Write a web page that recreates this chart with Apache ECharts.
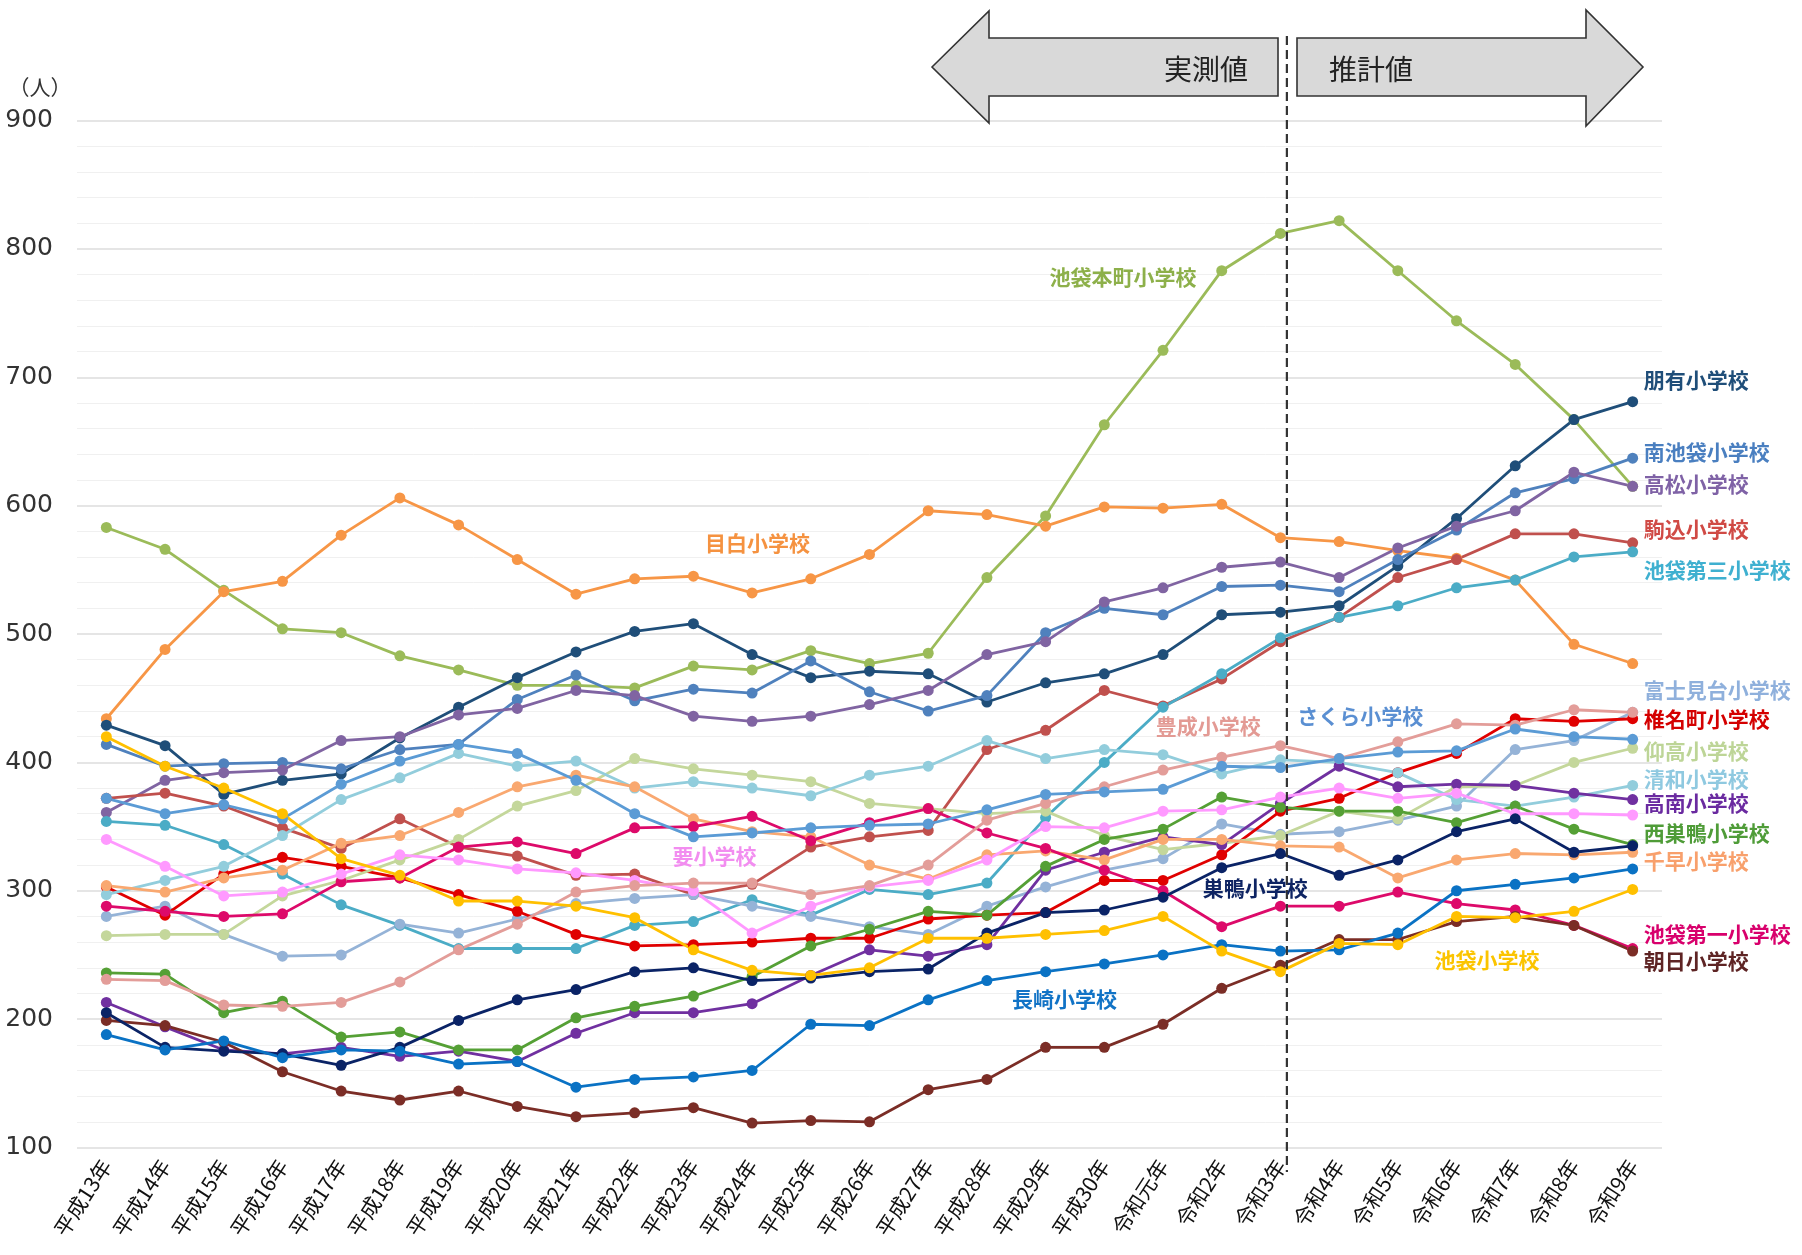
<!DOCTYPE html>
<html><head><meta charset="utf-8">
<script src="https://cdn.jsdelivr.net/npm/echarts@6/dist/echarts.min.js"></script>
<style>html,body{margin:0;padding:0;background:#fff}#c{width:1802px;height:1255px}</style>
</head><body><div id="c"></div>
<script>
// ---- categories ----
const categories = ['平成13年','平成14年','平成15年','平成16年','平成17年','平成18年','平成19年','平成20年','平成21年','平成22年','平成23年','平成24年','平成25年','平成26年','平成27年','平成28年','平成29年','平成30年','令和元年','令和2年','令和3年','令和4年','令和5年','令和6年','令和7年','令和8年','令和9年'];
const yTicks = [100, 200, 300, 400, 500, 600, 700, 800, 900];

// ---- series values (人) ----
const ikebukuroHoncho = [583,566,534,504,501,483,472,460,460,458,475,472,487,477,485,544,592,663,721,783,812,822,783,744,710,667,615];
const mejiro          = [434,488,533,541,577,606,585,558,531,543,545,532,543,562,596,593,584,599,598,601,575,572,565,559,542,492,477];
const houyu           = [429,413,375,386,391,419,443,466,486,502,508,484,466,471,469,447,462,469,484,515,517,522,553,590,631,667,681];
const minamiIkebukuro = [414,397,399,400,395,410,414,449,468,448,457,454,479,455,440,452,501,520,515,537,538,533,558,581,610,621,637];
const takamatsu       = [361,386,392,394,417,420,437,442,456,452,436,432,436,445,456,484,494,525,536,552,556,544,567,584,596,626,615];
const komagome        = [372,376,366,349,333,356,334,327,312,313,297,305,334,342,347,410,425,456,444,465,494,513,544,558,578,578,571];
const ikebukuroDai3   = [354,351,336,313,289,273,255,255,255,273,276,293,281,301,297,306,357,400,443,469,497,513,522,536,542,560,564];
const fujimidai       = [280,288,266,249,250,274,267,278,290,294,297,288,280,272,266,288,303,316,325,352,344,346,355,366,410,417,439];
const shiinamachi     = [303,281,313,326,319,310,297,284,266,257,258,260,263,263,278,281,283,308,308,328,362,372,392,407,434,432,434];
const gyoukou         = [265,266,266,296,308,324,340,366,378,403,395,390,385,368,364,360,362,343,332,337,343,362,356,381,382,400,411];
const seiwa           = [297,308,319,343,371,388,407,397,401,380,385,380,374,390,397,417,403,410,406,391,402,400,392,371,366,373,382];
const takaminami      = [213,194,176,173,178,171,175,167,189,205,205,212,234,254,249,258,316,330,342,336,368,397,381,383,382,376,371];
const nishiSugamo     = [236,235,205,214,186,190,176,176,201,210,218,233,257,270,284,281,319,340,348,373,365,362,362,353,366,348,336];
const chihaya         = [304,299,310,316,337,343,361,381,390,381,356,346,342,320,309,328,331,324,340,340,335,334,310,324,329,328,330];
const ikebukuroDai1   = [288,284,280,282,307,310,334,338,329,349,350,358,339,353,364,345,333,316,300,272,288,288,299,290,285,273,255];
const asahi           = [199,195,182,159,144,137,144,132,124,127,131,119,121,120,145,153,178,178,196,224,242,262,262,276,280,273,253];
const kaname          = [340,319,296,299,313,328,324,317,314,308,300,267,288,303,308,324,350,349,362,363,373,380,372,376,360,360,359];
const housei          = [231,230,211,210,213,229,254,274,299,304,306,306,297,304,320,355,368,381,394,404,413,403,416,430,429,441,439];
const sakura          = [372,360,367,356,383,401,414,407,386,360,342,345,349,351,352,363,375,377,379,397,396,403,408,409,426,420,418];
const sugamo          = [205,178,175,173,164,178,199,215,223,237,240,230,232,237,239,267,283,285,295,318,329,312,324,346,356,330,335];
const nagasaki        = [188,176,183,170,176,175,165,167,147,153,155,160,196,195,215,230,237,243,250,258,253,254,267,300,305,310,317];
const ikebukuro       = [420,397,380,360,325,312,292,292,288,279,254,238,234,240,263,263,266,269,280,253,237,259,258,280,279,284,301];

// ---- series definitions (name, data, colour, label anchor in data space) ----
const defs = [
  {name:'池袋本町小学校', data:ikebukuroHoncho, color:'#9bbb59', lc:'#8db04a', at:[17.32,778], align:'center'},
  {name:'目白小学校',     data:mejiro,          color:'#f79646', lc:'#f59240', at:[11.09,571], align:'center'},
  {name:'朋有小学校',     data:houyu,           color:'#1f4e79', lc:'#1f4e79', at:[26,698]},
  {name:'南池袋小学校',   data:minamiIkebukuro, color:'#4f81bd', lc:'#4a7fc0', at:[26,642]},
  {name:'高松小学校',     data:takamatsu,       color:'#8064a2', lc:'#7f62a6', at:[26,617]},
  {name:'駒込小学校',     data:komagome,        color:'#c0504d', lc:'#d04a45', at:[26,582]},
  {name:'池袋第三小学校', data:ikebukuroDai3,   color:'#4bacc6', lc:'#3fb0d0', at:[26,550]},
  {name:'富士見台小学校', data:fujimidai,       color:'#95b3d7', lc:'#8fb0dc', at:[26,456]},
  {name:'椎名町小学校',   data:shiinamachi,     color:'#e00000', lc:'#d40000', at:[26,434]},
  {name:'仰高小学校',     data:gyoukou,         color:'#c4d79b', lc:'#bdd597', at:[26,409]},
  {name:'清和小学校',     data:seiwa,           color:'#92cddc', lc:'#8fc9e0', at:[26,387]},
  {name:'高南小学校',     data:takaminami,      color:'#7030a0', lc:'#6a2aa0', at:[26,368]},
  {name:'西巣鴨小学校',   data:nishiSugamo,     color:'#55a035', lc:'#4f9c38', at:[26,345]},
  {name:'千早小学校',     data:chihaya,         color:'#f9a870', lc:'#f8a06c', at:[26,323]},
  {name:'池袋第一小学校', data:ikebukuroDai1,   color:'#dd0a6a', lc:'#d8006c', at:[26,266]},
  {name:'朝日小学校',     data:asahi,           color:'#7b2d26', lc:'#5e2424', at:[26,245]},
  {name:'要小学校',       data:kaname,          color:'#ff99ff', lc:'#f28df0', at:[10.36,327], align:'center'},
  {name:'豊成小学校',     data:housei,          color:'#e39d99', lc:'#e39a94', at:[18.77,428], align:'center'},
  {name:'さくら小学校',   data:sakura,          color:'#5b9bd5', lc:'#5a8fd2', at:[21.36,436], align:'center'},
  {name:'巣鴨小学校',     data:sugamo,          color:'#0a2366', lc:'#0e2463', at:[19.57,302], align:'center'},
  {name:'長崎小学校',     data:nagasaki,        color:'#0a72c4', lc:'#1173c6', at:[16.32,216], align:'center'},
  {name:'池袋小学校',     data:ikebukuro,       color:'#ffc000', lc:'#fbc400', at:[23.52,246], align:'center'}
];

const JP = '"Noto Sans CJK JP", "Noto Sans", sans-serif';
const chart = echarts.init(document.getElementById('c'), null, {renderer:'canvas'});

chart.setOption({
  animation:false,
  backgroundColor:'#ffffff',
  grid:{left:77, right:140, top:120.5, bottom:107.5, containLabel:false},
  xAxis:{
    type:'category', data:categories, boundaryGap:true,
    axisLine:{show:false}, axisTick:{show:false},
    axisLabel:{rotate:57, fontSize:21, color:'#111', fontFamily:JP, margin:14, interval:0}
  },
  yAxis:{
    type:'value', min:yTicks[0], max:yTicks[yTicks.length-1], interval:100,
    axisLine:{show:false}, axisTick:{show:false},
    axisLabel:{fontSize:25, color:'#333', fontFamily:'"DejaVu Sans", sans-serif', margin:24},
    splitLine:{show:true, lineStyle:{color:'#dcdcdc', width:1.5}},
    minorTick:{show:false, splitNumber:5},
    minorSplitLine:{show:true, lineStyle:{color:'#f0f0f0', width:1}}
  },
  series: defs.map(d => ({
    name:d.name, type:'line', data:d.data,
    symbol:'circle', symbolSize:11,
    lineStyle:{width:2.8, color:d.color},
    itemStyle:{color:d.color},
    emphasis:{disabled:true}
  }))
});

function toPx(idx, val){
  const i0 = Math.floor(idx), i1 = Math.min(i0 + 1, categories.length - 1);
  const p0 = chart.convertToPixel({gridIndex:0}, [i0, val]);
  const p1 = chart.convertToPixel({gridIndex:0}, [i1, val]);
  const t = idx - i0;
  return [p0[0] + (p1[0] - p0[0]) * t, p0[1]];
}

const g = [];
// school labels
defs.forEach(d => {
  const p = toPx(d.at[0], d.at[1]);
  const right = !d.align;
  g.push({type:'text', x: right ? p[0] + 11 : p[0], y: p[1], z:50,
    style:{text:d.name, fill:d.lc, font:'bold 21px ' + JP,
      align: right ? 'left' : 'center', verticalAlign:'middle'}});
});
// unit label
g.push({type:'text', x:40, y:87, style:{text:'（人）', fill:'#333', font:'21px ' + JP, align:'center', verticalAlign:'middle'}});
// dashed divider between measured and estimated values
const px20 = toPx(20.11, 900);
g.push({type:'line', z:40, shape:{x1:px20[0], y1:36, x2:px20[0], y2:1172},
  style:{stroke:'#333', lineWidth:2.2, lineDash:[9,5]}});
// arrows
g.push({type:'polygon', z:30, shape:{points:[[932,67],[989,11],[989,38],[1278,38],[1278,96],[989,96],[989,123]]},
  style:{fill:'#d9d9d9', stroke:'#333', lineWidth:1.6}});
g.push({type:'text', z:31, x:1206, y:69, style:{text:'実測値', fill:'#222', font:'28px ' + JP, align:'center', verticalAlign:'middle'}});
g.push({type:'polygon', z:30, shape:{points:[[1297,38],[1586,38],[1586,10],[1643,67],[1586,126],[1586,96],[1297,96]]},
  style:{fill:'#d9d9d9', stroke:'#333', lineWidth:1.6}});
g.push({type:'text', z:31, x:1371, y:69, style:{text:'推計値', fill:'#222', font:'28px ' + JP, align:'center', verticalAlign:'middle'}});

chart.setOption({graphic:g});
</script>
</body></html>
